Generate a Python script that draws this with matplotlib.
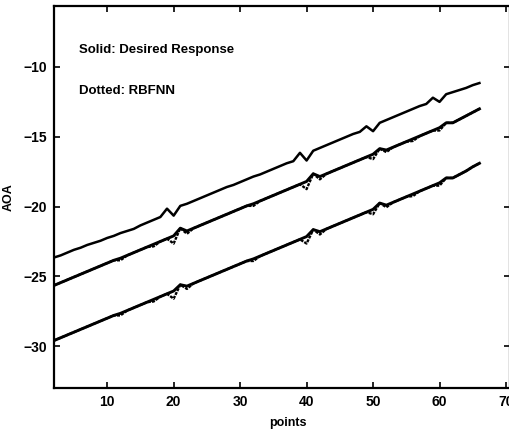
import numpy as np
import matplotlib
matplotlib.use('Agg')
import matplotlib.pyplot as plt

plt.rcParams['font.family'] = ['Liberation Sans', 'DejaVu Sans']

points = np.arange(2, 67)

# upper source, desired response (RBFNN lies on top of it)
top_desired = [-23.65, -23.50, -23.30, -23.10, -22.95, -22.75, -22.60, -22.45, -22.25, -22.10,
               -21.90, -21.75, -21.60, -21.35, -21.15, -20.95, -20.75, -20.15, -20.65, -19.95,
               -19.80, -19.60, -19.40, -19.20, -19.00, -18.80, -18.60, -18.45, -18.25, -18.05,
               -17.85, -17.70, -17.50, -17.30, -17.10, -16.90, -16.75, -16.15, -16.70, -16.00,
               -15.80, -15.60, -15.40, -15.20, -15.00, -14.80, -14.65, -14.25, -14.60, -14.00,
               -13.80, -13.60, -13.40, -13.20, -13.00, -12.80, -12.65, -12.20, -12.50, -11.95,
               -11.80, -11.65, -11.50, -11.30, -11.15]

mid_desired = [-25.65, -25.45, -25.25, -25.05, -24.85, -24.65, -24.45, -24.25, -24.05, -23.85,
               -23.70, -23.50, -23.30, -23.10, -22.90, -22.70, -22.50, -22.30, -22.10, -21.55,
               -21.75, -21.55, -21.35, -21.15, -20.95, -20.75, -20.55, -20.35, -20.15, -19.95,
               -19.80, -19.60, -19.40, -19.20, -19.00, -18.80, -18.60, -18.40, -18.20, -17.65,
               -17.85, -17.65, -17.45, -17.25, -17.05, -16.85, -16.65, -16.45, -16.25, -15.85,
               -15.95, -15.75, -15.55, -15.35, -15.15, -14.95, -14.75, -14.55, -14.35, -14.00,
               -14.00, -13.75, -13.50, -13.25, -13.00]

mid_rbfnn = [-25.65, -25.45, -25.25, -25.05, -24.85, -24.65, -24.45, -24.25, -24.05, -23.85,
             -23.85, -23.50, -23.30, -23.10, -22.90, -22.85, -22.50, -22.30, -22.65, -21.55,
             -21.95, -21.55, -21.35, -21.15, -20.95, -20.75, -20.55, -20.35, -20.15, -19.95,
             -19.95, -19.60, -19.40, -19.20, -19.00, -18.80, -18.60, -18.40, -18.75, -17.65,
             -18.05, -17.65, -17.45, -17.25, -17.05, -16.85, -16.65, -16.45, -16.60, -15.85,
             -16.10, -15.75, -15.55, -15.35, -15.30, -14.95, -14.75, -14.55, -14.55, -14.00,
             -14.00, -13.75, -13.50, -13.25, -13.00]

low_desired = [-29.60, -29.40, -29.20, -29.00, -28.80, -28.60, -28.40, -28.20, -28.00, -27.80,
               -27.65, -27.45, -27.25, -27.05, -26.85, -26.65, -26.45, -26.25, -26.05, -25.60,
               -25.70, -25.50, -25.30, -25.10, -24.90, -24.70, -24.50, -24.30, -24.10, -23.90,
               -23.75, -23.55, -23.35, -23.15, -22.95, -22.75, -22.55, -22.35, -22.15, -21.65,
               -21.80, -21.60, -21.40, -21.20, -21.00, -20.80, -20.60, -20.40, -20.20, -19.75,
               -19.90, -19.70, -19.50, -19.30, -19.10, -18.90, -18.70, -18.50, -18.30, -17.95,
               -17.95, -17.70, -17.45, -17.15, -16.90]

low_rbfnn = [-29.60, -29.40, -29.20, -29.00, -28.80, -28.60, -28.40, -28.20, -28.00, -27.80,
             -27.80, -27.45, -27.25, -27.05, -26.85, -26.80, -26.45, -26.25, -26.60, -25.60,
             -25.90, -25.50, -25.30, -25.10, -24.90, -24.70, -24.50, -24.30, -24.10, -23.90,
             -23.90, -23.55, -23.35, -23.15, -22.95, -22.75, -22.55, -22.35, -22.65, -21.65,
             -22.00, -21.60, -21.40, -21.20, -21.00, -20.80, -20.60, -20.40, -20.55, -19.75,
             -20.05, -19.70, -19.50, -19.30, -19.25, -18.90, -18.70, -18.50, -18.50, -17.95,
             -17.95, -17.70, -17.45, -17.15, -16.90]

xticks = [10, 20, 30, 40, 50, 60, 70]
yticks = [-30, -25, -20, -15, -10]

fig = plt.figure(figsize=(5.10, 4.32), dpi=100)
ax1 = fig.add_axes([54/510, 1-388/432, 456/510, 382/432])

# scanned dotted line looks almost continuous
dots = (0, (1.3, 0.5))
ax1.plot(points, top_desired, color='k', lw=1.8)
ax1.plot(points, mid_desired, color='k', lw=2.1)
ax1.plot(points, mid_rbfnn, color='k', lw=1.7, ls=dots)
ax1.plot(points, low_desired, color='k', lw=2.1)
ax1.plot(points, low_rbfnn, color='k', lw=1.7, ls=dots)

ax1.set_xlim(2, 70.6)
ax1.set_ylim(-33, -5.63)
ax1.set_xticks(xticks)
ax1.set_yticks(yticks)
ax1.tick_params(direction='in', top=True, right=True, length=4, width=1.2,
                labelsize=10, pad=5)
for lab in ax1.get_xticklabels() + ax1.get_yticklabels():
    lab.set_fontweight('bold')
for sp in ax1.spines.values():
    sp.set_linewidth(1.6)

ax1.set_xlabel('points', fontsize=9, fontweight='bold')
ax1.xaxis.set_label_coords(0.512, -0.075)
ax1.set_ylabel('AOA', fontsize=9, fontweight='bold', labelpad=6)

ax1.text(5.8, -8.8, 'Solid: Desired Response', fontsize=9.5, fontweight='bold', va='center')
ax1.text(5.8, -11.7, 'Dotted: RBFNN', fontsize=9.5, fontweight='bold', va='center')

fig.savefig('out.png', dpi=100)
